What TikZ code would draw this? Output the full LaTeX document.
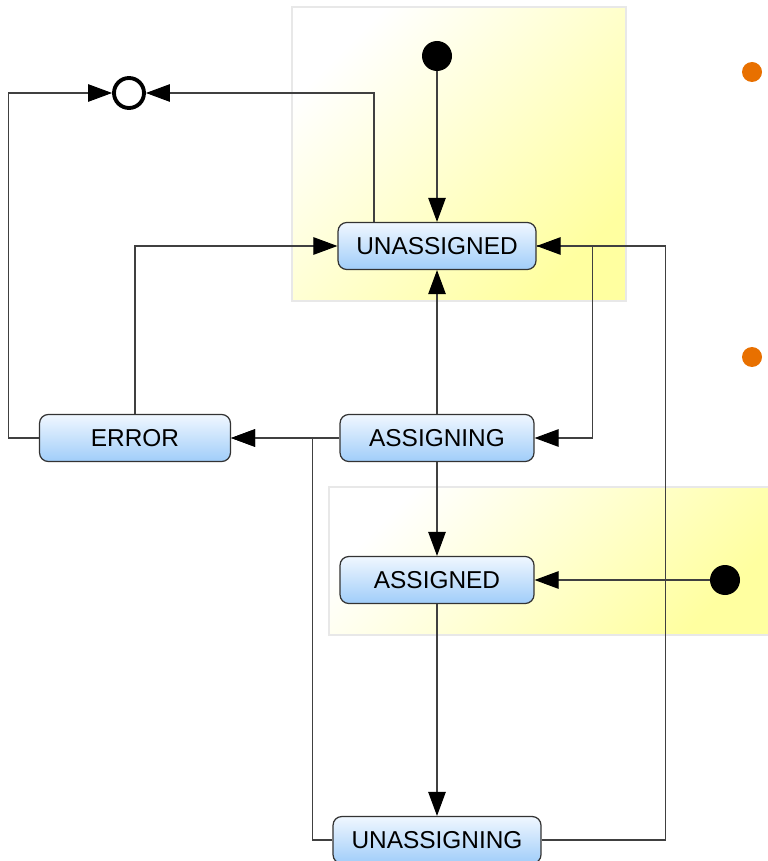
\documentclass[tikz,border=0pt]{standalone}
\usepackage{fontspec}
\setmainfont{Liberation Sans}
\usetikzlibrary{arrows.meta}

\definecolor{statetop}{RGB}{240,247,255}
\definecolor{statebot}{RGB}{160,205,249}
\definecolor{regionyellow}{RGB}{255,255,160}
\definecolor{regionline}{RGB}{232,232,232}
\definecolor{dotorange}{RGB}{232,112,0}

\tikzset{
  statebox/.style={draw=black!80, line width=0.7pt, rounded corners=5pt, top color=statetop, bottom color=statebot, minimum height=0.94cm, inner sep=0pt, font=\fontsize{13.9}{16}\selectfont},
  startdot/.style={circle, fill=black, inner sep=0pt, minimum size=0.6cm},
  enddot/.style={circle, draw=black, line width=2.2pt, inner sep=0pt, minimum size=0.6cm},
  trans/.style={draw=black!75, line width=0.6pt, -{Triangle[length=0.48cm,width=0.35cm,color=black]}},
  region/.style={draw=regionline, line width=0.6pt, left color=white, right color=regionyellow, shading angle=45}
}

\begin{document}
\begin{tikzpicture}[x=0.02cm,y=-0.02cm]
\useasboundingbox (0,0) rectangle (767,861);

%Regions
\shade[region] (292,7) rectangle (626,301);
\shade[region] (329,487) rectangle (770,635);

%Markers
\node[circle, fill=dotorange, inner sep=0pt, minimum size=0.4cm] (bulleta) at (752,72) {};
\node[circle, fill=dotorange, inner sep=0pt, minimum size=0.4cm] (bulletb) at (752,357) {};

%States
\node[startdot] (starta) at (437,56) {};
\node[startdot] (startb) at (725,580) {};
\node[enddot] (final) at (129,93) {};

\node[statebox, minimum width=3.96cm] (unassigned) at (437,246) {UNASSIGNED};
\node[statebox, minimum width=3.82cm] (error) at (135,438) {ERROR};
\node[statebox, minimum width=3.88cm] (assigning) at (437,438) {ASSIGNING};
\node[statebox, minimum width=3.88cm] (assigned) at (437,580) {ASSIGNED};
\node[statebox, minimum width=4.16cm] (unassigning) at (437,840) {UNASSIGNING};

%Transitions
\draw[trans] (starta) -- (unassigned);
\draw[trans] ([xshift=-1.26cm]unassigned.north) |- (final);
\draw[trans] (error.west) -- ++(-30,0) |- (final);
\draw[trans] (error.north) |- (unassigned.west);
\draw[trans] (assigning) -- (unassigned);
\draw[trans] (unassigned.east) -- ++(56,0) |- (assigning.east);
\draw[trans] (unassigning.east) -- ++(124,0) |- (unassigned.east);
\draw[trans] (assigning) -- (error);
\draw[trans] (unassigning.west) -- ++(-20,0) |- (error.east);
\draw[trans] (assigning) -- (assigned);
\draw[trans] (startb) -- (assigned);
\draw[trans] (assigned) -- (unassigning);

\end{tikzpicture}
\end{document}
